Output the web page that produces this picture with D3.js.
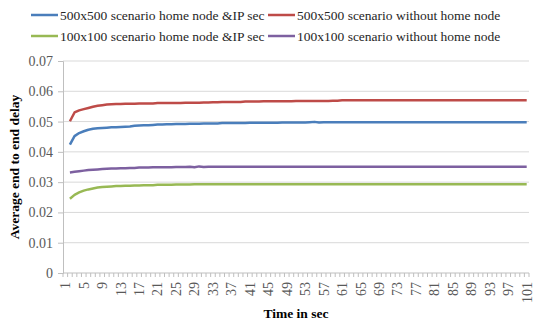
<!DOCTYPE html>
<html>
<head>
<meta charset="utf-8">
<script src="https://cdn.jsdelivr.net/npm/d3@7"></script>
<style>
  body { margin: 0; background: #fff; }
  svg { display: block; }
  svg text { font-family: "Liberation Serif", "Times New Roman", "DejaVu Serif", serif !important; }
</style>
</head>
<body>
<div id="chart"></div>
<script>
// time points 1..101 (first value is at t = 2)
const times = d3.range(1, 102);
const yTicks = [0, 0.01, 0.02, 0.03, 0.04, 0.05, 0.06, 0.07];
const seriesNames = [
  "500x500 scenario home node &IP sec",
  "500x500 scenario without home node",
  "100x100 scenario home node &IP sec",
  "100x100 scenario without home node"
];
const colors = ["#4a7ebb", "#be4b48", "#98b954", "#7d60a0"];

// values, t = 2..101
const blue500 = [
  0.0424, 0.0452, 0.0462, 0.0468, 0.0473, 0.0476, 0.0478, 0.0479, 0.0480, 0.0481,
  0.0481, 0.0482, 0.0483, 0.0484, 0.0486, 0.0487, 0.0488, 0.0488, 0.0489, 0.0490,
  0.0490, 0.0491, 0.0491, 0.0492, 0.0492, 0.0492, 0.0493, 0.0493, 0.0493, 0.0494,
  0.0494, 0.0494, 0.0494, 0.0495, 0.0495, 0.0495, 0.0495, 0.0495, 0.0495, 0.0496,
  0.0496, 0.0496, 0.0496, 0.0496, 0.0496, 0.0496, 0.0497, 0.0497, 0.0497, 0.0497,
  0.0497, 0.0497, 0.0498, 0.0499, 0.0497, 0.0498, 0.0498, 0.0498, 0.0498, 0.0498,
  0.0498, 0.0498, 0.0498, 0.0498, 0.0498, 0.0498, 0.0498, 0.0498, 0.0498, 0.0498,
  0.0498, 0.0498, 0.0498, 0.0498, 0.0498, 0.0498, 0.0498, 0.0498, 0.0498, 0.0498,
  0.0498, 0.0498, 0.0498, 0.0498, 0.0498, 0.0498, 0.0498, 0.0498, 0.0498, 0.0498,
  0.0498, 0.0498, 0.0498, 0.0498, 0.0498, 0.0498, 0.0498, 0.0498, 0.0498, 0.0498
];
const red500 = [
  0.0501, 0.0530, 0.0537, 0.0541, 0.0545, 0.0549, 0.0552, 0.0554, 0.0556, 0.0557,
  0.0558, 0.0558, 0.0559, 0.0559, 0.0559, 0.0560, 0.0560, 0.0560, 0.0560, 0.0561,
  0.0561, 0.0561, 0.0561, 0.0561, 0.0561, 0.0562, 0.0562, 0.0562, 0.0562, 0.0563,
  0.0563, 0.0564, 0.0564, 0.0565, 0.0565, 0.0565, 0.0565, 0.0565, 0.0566, 0.0566,
  0.0566, 0.0566, 0.0567, 0.0567, 0.0567, 0.0567, 0.0567, 0.0567, 0.0567, 0.0568,
  0.0568, 0.0568, 0.0568, 0.0568, 0.0568, 0.0568, 0.0568, 0.0569, 0.0569, 0.0570,
  0.0570, 0.0570, 0.0570, 0.0570, 0.0570, 0.0570, 0.0570, 0.0570, 0.0570, 0.0570,
  0.0570, 0.0570, 0.0570, 0.0570, 0.0570, 0.0570, 0.0570, 0.0570, 0.0570, 0.0570,
  0.0570, 0.0570, 0.0570, 0.0570, 0.0570, 0.0570, 0.0570, 0.0570, 0.0570, 0.0570,
  0.0570, 0.0570, 0.0570, 0.0570, 0.0570, 0.0570, 0.0570, 0.0570, 0.0570, 0.0570
];
const green100 = [
  0.0245, 0.0258, 0.0266, 0.0272, 0.0276, 0.0279, 0.0282, 0.0284, 0.0285, 0.0286,
  0.0287, 0.0287, 0.0288, 0.0288, 0.0289, 0.0289, 0.0290, 0.0290, 0.0290, 0.0291,
  0.0291, 0.0291, 0.0291, 0.0292, 0.0292, 0.0292, 0.0292, 0.0293, 0.0293, 0.0293,
  0.0293, 0.0293, 0.0293, 0.0293, 0.0293, 0.0293, 0.0293, 0.0293, 0.0293, 0.0293,
  0.0293, 0.0293, 0.0293, 0.0293, 0.0293, 0.0293, 0.0293, 0.0293, 0.0293, 0.0293,
  0.0293, 0.0293, 0.0293, 0.0293, 0.0293, 0.0293, 0.0293, 0.0293, 0.0293, 0.0293,
  0.0293, 0.0293, 0.0293, 0.0293, 0.0293, 0.0293, 0.0293, 0.0293, 0.0293, 0.0293,
  0.0293, 0.0293, 0.0293, 0.0293, 0.0293, 0.0293, 0.0293, 0.0293, 0.0293, 0.0293,
  0.0293, 0.0293, 0.0293, 0.0293, 0.0293, 0.0293, 0.0293, 0.0293, 0.0293, 0.0293,
  0.0293, 0.0293, 0.0293, 0.0293, 0.0293, 0.0293, 0.0293, 0.0293, 0.0293, 0.0293
];
const purple100 = [
  0.0332, 0.0334, 0.0336, 0.0338, 0.0340, 0.0341, 0.0342, 0.0343, 0.0344, 0.0345,
  0.0345, 0.0346, 0.0346, 0.0347, 0.0347, 0.0348, 0.0348, 0.0348, 0.0349, 0.0349,
  0.0349, 0.0349, 0.0349, 0.0350, 0.0350, 0.0350, 0.0351, 0.0349, 0.0352, 0.0350,
  0.0351, 0.0351, 0.0351, 0.0351, 0.0351, 0.0351, 0.0351, 0.0351, 0.0351, 0.0351,
  0.0351, 0.0351, 0.0351, 0.0351, 0.0351, 0.0351, 0.0351, 0.0351, 0.0351, 0.0351,
  0.0351, 0.0351, 0.0351, 0.0351, 0.0351, 0.0351, 0.0351, 0.0351, 0.0351, 0.0351,
  0.0351, 0.0351, 0.0351, 0.0351, 0.0351, 0.0351, 0.0351, 0.0351, 0.0351, 0.0351,
  0.0351, 0.0351, 0.0351, 0.0351, 0.0351, 0.0351, 0.0351, 0.0351, 0.0351, 0.0351,
  0.0351, 0.0351, 0.0351, 0.0351, 0.0351, 0.0351, 0.0351, 0.0351, 0.0351, 0.0351,
  0.0351, 0.0351, 0.0351, 0.0351, 0.0351, 0.0351, 0.0351, 0.0351, 0.0351, 0.0351
];
const seriesValues = [blue500, red500, green100, purple100];

const width = 534, height = 324;
const plotLeft = 63, plotRight = 529, plotTop = 61, plotBottom = 273;

const svg = d3.select("#chart").append("svg")
  .attr("width", width)
  .attr("height", height);

const x = d3.scaleBand().domain(times).range([plotLeft, plotRight]).padding(0);
const xc = (t) => x(t) + x.bandwidth() / 2;
const y = d3.scaleLinear().domain([0, 0.07]).range([plotBottom, plotTop]);

// gridlines
svg.append("g")
  .selectAll("line")
  .data(yTicks.filter((d) => d > 0))
  .join("line")
  .attr("x1", plotLeft)
  .attr("x2", plotRight)
  .attr("y1", (d) => y(d))
  .attr("y2", (d) => y(d))
  .attr("stroke", "#d9d9d9")
  .attr("stroke-width", 1);

// y axis
const yAxis = svg.append("g")
  .attr("transform", `translate(${plotLeft},0)`)
  .call(d3.axisLeft(y).tickValues(yTicks).tickFormat((d) => (d === 0 ? "0" : d3.format(".2f")(d))).tickSize(5).tickPadding(5));
yAxis.select(".domain").attr("stroke", "#bfbfbf");
yAxis.selectAll(".tick line").attr("stroke", "#bfbfbf");
yAxis.selectAll(".tick text")
  .attr("fill", "#595959")
  .style("font-size", "14px");

// x axis: minor tick marks between categories
const xAxisG = svg.append("g");
xAxisG.append("line")
  .attr("x1", plotLeft).attr("x2", plotRight)
  .attr("y1", plotBottom).attr("y2", plotBottom)
  .attr("stroke", "#bfbfbf");
xAxisG.selectAll("line.tk")
  .data(times.concat([102]))
  .join("line")
  .attr("class", "tk")
  .attr("x1", (t) => (t === 102 ? plotRight : x(t)))
  .attr("x2", (t) => (t === 102 ? plotRight : x(t)))
  .attr("y1", plotBottom)
  .attr("y2", plotBottom + 4)
  .attr("stroke", "#bfbfbf");

const xLabels = times.filter((t) => (t - 1) % 4 === 0);
const xAxis = svg.append("g")
  .attr("transform", `translate(0,${plotBottom})`)
  .call(d3.axisBottom(x).tickValues(xLabels).tickSize(0).tickPadding(0));
xAxis.select(".domain").remove();
xAxis.selectAll(".tick text")
  .attr("fill", "#595959")
  .style("font-size", "14px")
  .attr("text-anchor", "end")
  .attr("dy", "0.35em")
  .attr("transform", "translate(0,9) rotate(-90)");

// lines
const line = d3.line()
  .x((d) => xc(d.t))
  .y((d) => y(d.v));

seriesValues.forEach((vals, i) => {
  const pts = vals.map((v, k) => ({ t: times[k + 1], v: v }));
  svg.append("path")
    .datum(pts)
    .attr("fill", "none")
    .attr("stroke", colors[i])
    .attr("stroke-width", 2.5)
    .attr("stroke-linejoin", "round")
    .attr("d", line);
});

// axis titles
svg.append("text")
  .attr("x", 296)
  .attr("y", 318)
  .attr("text-anchor", "middle")
  .style("font-size", "13.5px")
  .style("font-weight", "bold")
  .text("Time in sec");

svg.append("text")
  .attr("transform", `translate(19,${(plotTop + plotBottom) / 2}) rotate(-90)`)
  .attr("text-anchor", "middle")
  .style("font-size", "13.5px")
  .style("font-weight", "bold")
  .text("Average end to end delay");

// legend
const legendPos = [
  { x: 31, y: 15 },
  { x: 268, y: 15 },
  { x: 31, y: 36 },
  { x: 268, y: 36 }
];
const legend = svg.append("g")
  .selectAll("g")
  .data(seriesNames)
  .join("g")
  .attr("transform", (d, i) => `translate(${legendPos[i].x},${legendPos[i].y})`);
legend.append("line")
  .attr("x1", 0).attr("x2", 27)
  .attr("stroke", (d, i) => colors[i])
  .attr("stroke-width", 2.5);
legend.append("text")
  .attr("x", 29)
  .attr("dy", "0.35em")
  .attr("fill", "#262626")
  .style("font-size", "13.5px")
  .text((d) => d);
</script>
</body>
</html>
